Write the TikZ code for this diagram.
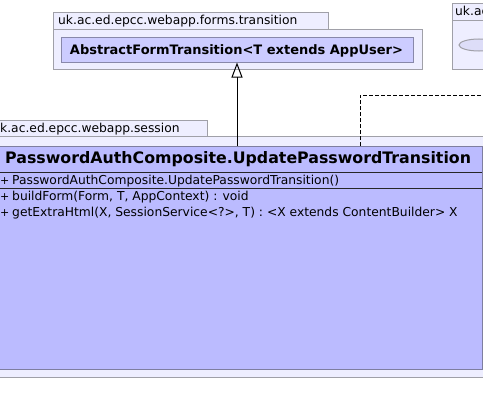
\documentclass[tikz,border=0pt]{standalone}
\usepackage{fontspec}
\setmainfont{DejaVu Sans}
\usetikzlibrary{arrows.meta,shapes.geometric}
\definecolor{pkgfill}{HTML}{EEEEFF}
\definecolor{pkgdraw}{HTML}{A0A0A8}
\definecolor{clsfill}{HTML}{BBBBFF}
\definecolor{clsdraw}{HTML}{7E7EA0}
\definecolor{absfill}{HTML}{CCCCFF}
\definecolor{absdraw}{HTML}{8888AA}
\definecolor{ellfill}{HTML}{DDDDF8}
\newcommand{\vis}{\makebox[12pt][l]{\fontsize{11}{13}\selectfont +}}
\tikzset{
  pkg/.style={draw=pkgdraw, fill=pkgfill, line width=1pt},
  clsbox/.style={draw=clsdraw, fill=clsfill, line width=1pt, inner sep=0pt},
  absbox/.style={draw=absdraw, fill=absfill, line width=1pt, inner sep=0pt},
  sep/.style={draw=black!85, line width=1pt},
  txt/.style={anchor=base west, inner sep=0pt, font=\fontsize{12.3}{14}\selectfont},
  abst/.style={anchor=base, inner sep=0pt, font=\fontsize{13}{15}\selectfont\bfseries},
  ttl/.style={anchor=base west, inner sep=0pt, font=\fontsize{15.8}{19}\selectfont\bfseries},
  gen/.style={draw=black, line width=1pt, -{Triangle[open, width=11pt, length=15pt, line width=1pt]}},
  dep/.style={draw=black, line width=1pt, dash pattern=on 4pt off 2pt},
  stub/.style={draw=black!70, line width=1pt},
}
\begin{document}
\begin{tikzpicture}[x=1pt, y=-1pt]
\useasboundingbox (0,0) rectangle (483,415);
\clip (0,0) rectangle (483,415);
% package forms.transition
\draw[pkg] (53,12) rectangle (328,29);
\draw[pkg] (53,29) rectangle (422,69);
\node[txt] (p1t) at (58,24.3) {uk.ac.ed.epcc.webapp.forms.transition};
\node[absbox, minimum width=352pt, minimum height=25pt] (aft) at (237,49.5) {};
\node[abst] (aftt) at (236.5,54.3) {AbstractFormTransition<T extends AppUser>};
% right package
\draw[pkg] (452,3) rectangle (520,20);
\draw[pkg] (452,20) rectangle (520,69);
\node[txt] (p2t) at (455,16) {uk.ac.ed.epcc.webapp};
\node[draw=pkgdraw, fill=ellfill, line width=1pt, ellipse, minimum width=40pt, minimum height=12pt, inner sep=0pt] (ell) at (479,45) {};
% package session
\draw[pkg] (-20,120) rectangle (207,136);
\draw[pkg] (-20,136) rectangle (520,377);
\node[txt] (p3t) at (-7.8,132) {uk.ac.ed.epcc.webapp.session};
% class
\node[clsbox, anchor=north west, minimum width=502pt, minimum height=223pt] (upt) at (-20,146) {};
\coordinate (s1l) at (-20,172); \coordinate (s1r) at (482,172);
\coordinate (s2l) at (-20,188); \coordinate (s2r) at (482,188);
\draw[sep] (s1l) -- (s1r);
\draw[sep] (s2l) -- (s2r);
\node[ttl] (name) at (5,163.3) {PasswordAuthComposite.UpdatePasswordTransition};
\node[txt] (ctor) at (0,184.5) {\vis PasswordAuthComposite.UpdatePasswordTransition()};
\node[txt] (m1) at (0,200.7) {\vis buildForm(Form, T, AppContext) : void};
\node[txt] (m2) at (0,216.7) {\vis getExtraHtml(X, SessionService<?>, T) : <X extends ContentBuilder> X};
% connectors
\draw[gen] (aft.south |- upt.north) -- (aft.south);
\coordinate (dx) at (360,95);
\coordinate (dend) at (500,95);
\draw[dep] (dx |- upt.north) -- (dx) -- (dend);
\coordinate (e1) at (500,153);
\coordinate (e2) at (500,345);
\draw[stub] (upt.east |- e1) -- (e1);
\draw[stub] (upt.east |- e2) -- (e2);
\end{tikzpicture}
\end{document}
